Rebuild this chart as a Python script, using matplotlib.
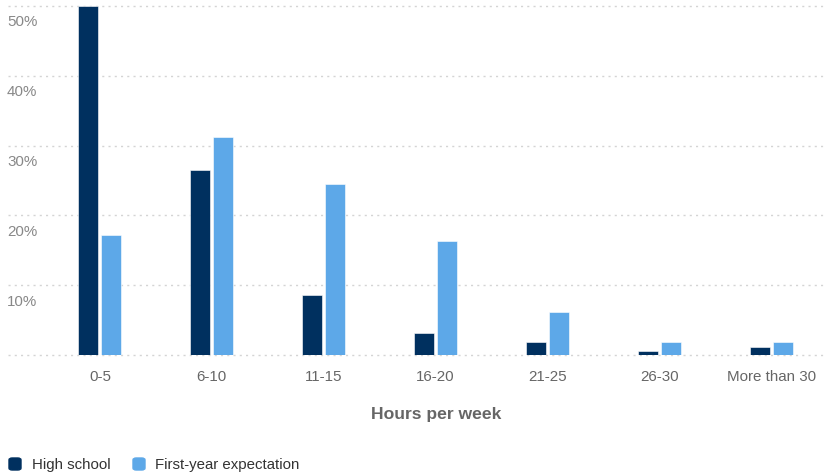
"""
Weekly hours: high school vs first-year expectation.
"""

import matplotlib.pyplot as plt
import matplotlib.transforms as mtransforms
from matplotlib.patches import FancyBboxPatch
import numpy as np

categories = ["0-5", "6-10", "11-15", "16-20", "21-25", "26-30", "More than 30"]
high_school = [50.0, 26.5, 8.6, 3.2, 1.9, 0.6, 1.2]
first_year = [17.2, 31.2, 24.5, 16.3, 6.1, 1.9, 1.9]
series_names = ["High school", "First-year expectation"]
y_ticks = [10, 20, 30, 40, 50]

DARK = "#00305f"
LIGHT = "#5da8e8"
W, H = 826, 475

plt.rcParams["font.family"] = ["Liberation Sans", "DejaVu Sans"]

fig = plt.figure(figsize=(W / 100, H / 100), dpi=100)
ax = fig.add_axes([8 / W, 1 - 355 / H, (826 - 8) / W, (355 - 6) / H])

x = np.arange(len(categories))
bw = 20 / 112
off = 11.5 / 112
ax.bar(x - off, high_school, bw, color=DARK, edgecolor="white", linewidth=0.4)
ax.bar(x + off, first_year, bw, color=LIGHT, edgecolor="white", linewidth=0.4)

ax.set_xlim(-92 / 112, 6 + 55 / 112)
ax.set_ylim(0, 50)

# dotted grid lines
for v in [0] + y_ticks:
    ax.axhline(v, color="#d4d4d4", linestyle=(0, (1.5, 3)), linewidth=1.0, zorder=0, clip_on=False)

# y labels sit just under their grid line
trans = mtransforms.offset_copy(ax.transData, fig=fig, x=0, y=-16.5 * 0.72, units="points")
trans = mtransforms.blended_transform_factory(ax.transAxes, trans)
for v in y_ticks:
    ax.text(-1 / 818, v, f"{v}%", transform=trans, ha="left", va="center",
            fontsize=10.9, color="#888888")

ax.set_yticks([])
ax.set_xticks(x)
ax.set_xticklabels(categories, fontsize=10.9, color="#666666")
ax.tick_params(axis="x", length=0, pad=11)
for s in ax.spines.values():
    s.set_visible(False)

fig.text(436 / W, 1 - 414 / H, "Hours per week", ha="center", va="center",
         fontsize=12.6, fontweight="bold", color="#666666")

# legend
for mx, tx, col, name in [(9, 32, DARK, series_names[0]), (133, 155, LIGHT, series_names[1])]:
    fig.patches.append(FancyBboxPatch((mx / W, 1 - 470 / H), 12 / W, 12 / H,
                                      boxstyle="round,pad=0,rounding_size=0.004",
                                      transform=fig.transFigure, color=col))
    fig.text(tx / W, 1 - 465 / H, name, ha="left", va="center",
             fontsize=10.8, color="#333333")

fig.savefig("out.png", dpi=100)
